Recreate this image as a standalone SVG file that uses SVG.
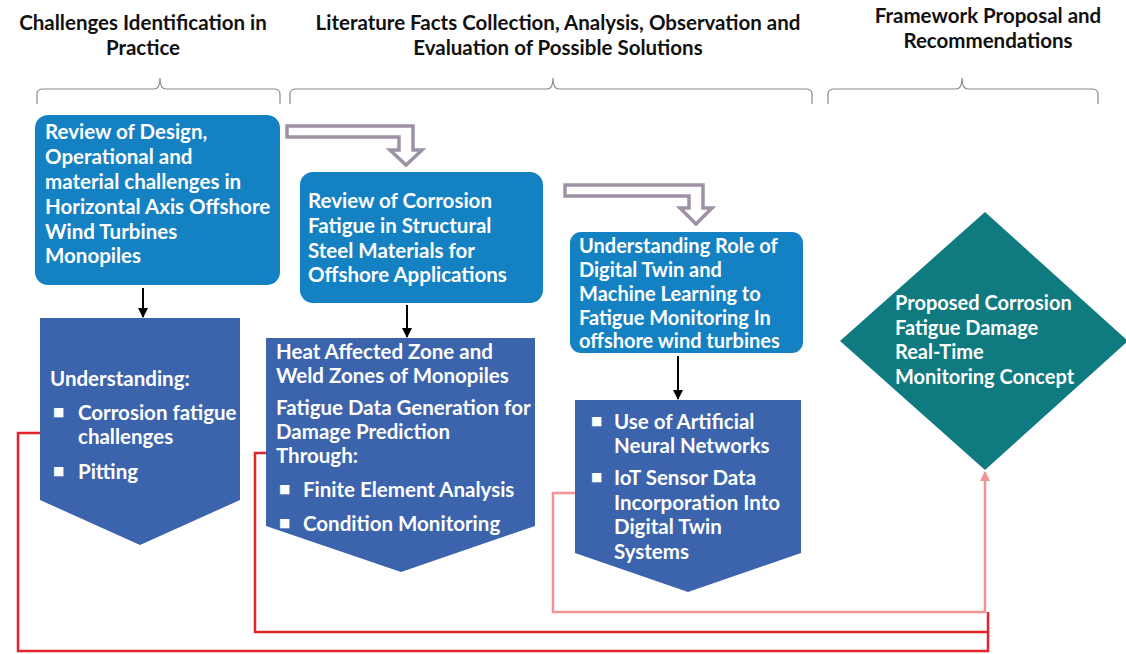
<svg xmlns="http://www.w3.org/2000/svg" width="1126" height="654" viewBox="0 0 1126 654">
  <style>
    .hdr { font-family: Lato, "Liberation Sans", sans-serif; font-weight: bold; font-size: 20.5px; fill: #111; text-anchor: middle; }
    .brace { fill: none; stroke: #8a8a8a; stroke-width: 1.2; }
    .box { fill: #1481c3; }
    .chev { fill: #3c64ad; }
    .dia { fill: #0f7a80; }
    .lbl { font-family: Lato, "Liberation Sans", sans-serif; font-weight: bold; font-size: 20.5px; fill: #fff; }
    .sm { font-size: 20px; }
    .bul { font-family: "DejaVu Sans", sans-serif; font-size: 12px; fill: #fff; }
    .flow { fill: #fff; stroke: #9d92a6; stroke-width: 3.5; stroke-linejoin: miter; }
    .down { stroke: #000; stroke-width: 2; marker-end: url(#blk); }
    .red { fill: none; stroke: #e3252b; stroke-width: 2.5; }
    .pink { fill: none; stroke: #f49595; stroke-width: 2.5; }
  </style>
  <defs>
    <marker id="blk" viewBox="0 0 10 10" refX="9" refY="5" markerWidth="5" markerHeight="5" orient="auto">
      <path d="M0,0 L10,5 L0,10 Z" fill="#000"/>
    </marker>
    <marker id="pk" viewBox="0 0 10 10" refX="9" refY="5" markerWidth="4" markerHeight="4" orient="auto">
      <path d="M0,0 L10,5 L0,10 Z" fill="#f49595"/>
    </marker>
  </defs>

  <!-- phase headings -->
  <g id="headings">
    <text class="hdr" x="143" y="30">Challenges Identification in</text>
    <text class="hdr" x="143" y="55">Practice</text>
    <text class="hdr" x="558" y="30">Literature Facts Collection, Analysis, Observation and</text>
    <text class="hdr" x="558" y="55">Evaluation of Possible Solutions</text>
    <text class="hdr" x="988" y="23">Framework Proposal and</text>
    <text class="hdr" x="988" y="48">Recommendations</text>
  </g>

  <!-- braces under headings -->
  <g id="braces">
    <path class="brace" d="M37,104 L37,94 Q37,89 43,89 L154,89 Q160,89 160,78 Q160,89 166,89 L274,89 Q280,89 280,94 L280,104"/>
    <path class="brace" d="M290,104 L290,94 Q290,89 296,89 L547,89 Q553,89 553,78 Q553,89 559,89 L806,89 Q812,89 812,94 L812,104"/>
    <path class="brace" d="M828,104 L828,94 Q828,89 834,89 L956,89 Q962,89 962,78 Q962,89 968,89 L1092,89 Q1098,89 1098,94 L1098,104"/>
  </g>

  <!-- connectors -->
  <g id="connectors">
    <path class="flow" d="M287,126 L413,126 L413,150 L422,150 L406,165 L390,150 L399,150 L399,137 L287,137 Z"/>
    <path class="flow" d="M565,185 L703,185 L703,208 L712,208 L696,224 L680,208 L689,208 L689,196 L565,196 Z"/>
    <line class="down" x1="143" y1="288" x2="143" y2="317"/>
    <line class="down" x1="407" y1="305" x2="407" y2="337"/>
    <line class="down" x1="678" y1="356" x2="678" y2="399"/>
    <path class="red" d="M40,433 L18,433 L18,651 L988,651 L988,612"/>
    <path class="red" d="M266,453 L255,453 L255,632 L988,632"/>
    <path class="pink" d="M575,493 L553,493 L553,612 L985,612 L985,472" marker-end="url(#pk)"/>
  </g>

  <!-- review boxes -->
  <g id="n-design">
    <rect class="box" x="35" y="115" width="245" height="170" rx="13"/>
    <text class="lbl"><tspan x="45" y="139">Review of Design,</tspan><tspan x="45" y="164">Operational and</tspan><tspan x="45" y="189">material challenges in</tspan><tspan x="45" y="214">Horizontal Axis Offshore</tspan><tspan x="45" y="239">Wind Turbines</tspan><tspan x="45" y="263">Monopiles</tspan></text>
  </g>
  <g id="n-corrosion">
    <rect class="box" x="300" y="172" width="243" height="131" rx="13"/>
    <text class="lbl"><tspan x="308" y="208">Review of Corrosion</tspan><tspan x="308" y="233">Fatigue in Structural</tspan><tspan x="308" y="258">Steel Materials for</tspan><tspan x="308" y="282">Offshore Applications</tspan></text>
  </g>
  <g id="n-digital">
    <rect class="box" x="570" y="232" width="233" height="121" rx="11"/>
    <text class="lbl sm"><tspan x="579" y="253">Understanding Role of</tspan><tspan x="579" y="277">Digital Twin and</tspan><tspan x="579" y="301">Machine Learning to</tspan><tspan x="579" y="325">Fatigue Monitoring In</tspan><tspan x="579" y="348">offshore wind turbines</tspan></text>
  </g>

  <!-- findings chevrons -->
  <g id="n-understanding">
    <path class="chev" d="M40,318 L240,318 L240,500 L140,545 L40,500 Z"/>
    <text class="lbl" x="50" y="386">Understanding:</text>
    <text class="bul" x="53" y="416">■</text>
    <text class="lbl"><tspan x="78" y="420">Corrosion fatigue</tspan><tspan x="78" y="444">challenges</tspan></text>
    <text class="bul" x="53" y="475">■</text>
    <text class="lbl" x="78" y="479">Pitting</text>
  </g>
  <g id="n-weld">
    <path class="chev" d="M266,338 L535,338 L535,526 L401,572 L266,526 Z"/>
    <text class="lbl"><tspan x="276" y="359">Heat Affected Zone and</tspan><tspan x="276" y="383">Weld Zones of Monopiles</tspan><tspan x="276" y="415">Fatigue Data Generation for</tspan><tspan x="276" y="439">Damage Prediction</tspan><tspan x="276" y="463">Through:</tspan></text>
    <text class="bul" x="279" y="493">■</text>
    <text class="lbl" x="303" y="497">Finite Element Analysis</text>
    <text class="bul" x="279" y="527">■</text>
    <text class="lbl" x="303" y="531">Condition Monitoring</text>
  </g>
  <g id="n-ml">
    <path class="chev" d="M575,400 L801,400 L801,553 L688,592 L575,553 Z"/>
    <text class="bul" x="591" y="425">■</text>
    <text class="lbl"><tspan x="614" y="429">Use of Artificial</tspan><tspan x="614" y="453">Neural Networks</tspan></text>
    <text class="bul" x="591" y="481">■</text>
    <text class="lbl"><tspan x="614" y="485">IoT Sensor Data</tspan><tspan x="614" y="510">Incorporation Into</tspan><tspan x="614" y="534">Digital Twin</tspan><tspan x="614" y="559">Systems</tspan></text>
  </g>

  <!-- proposed concept -->
  <g id="n-concept">
    <path class="dia" d="M985,212 L1128,341 L985,470 L840,341 Z"/>
    <text class="lbl sm"><tspan x="895" y="310">Proposed Corrosion</tspan><tspan x="895" y="335">Fatigue Damage</tspan><tspan x="895" y="359">Real-Time</tspan><tspan x="895" y="384">Monitoring Concept</tspan></text>
  </g>
</svg>
